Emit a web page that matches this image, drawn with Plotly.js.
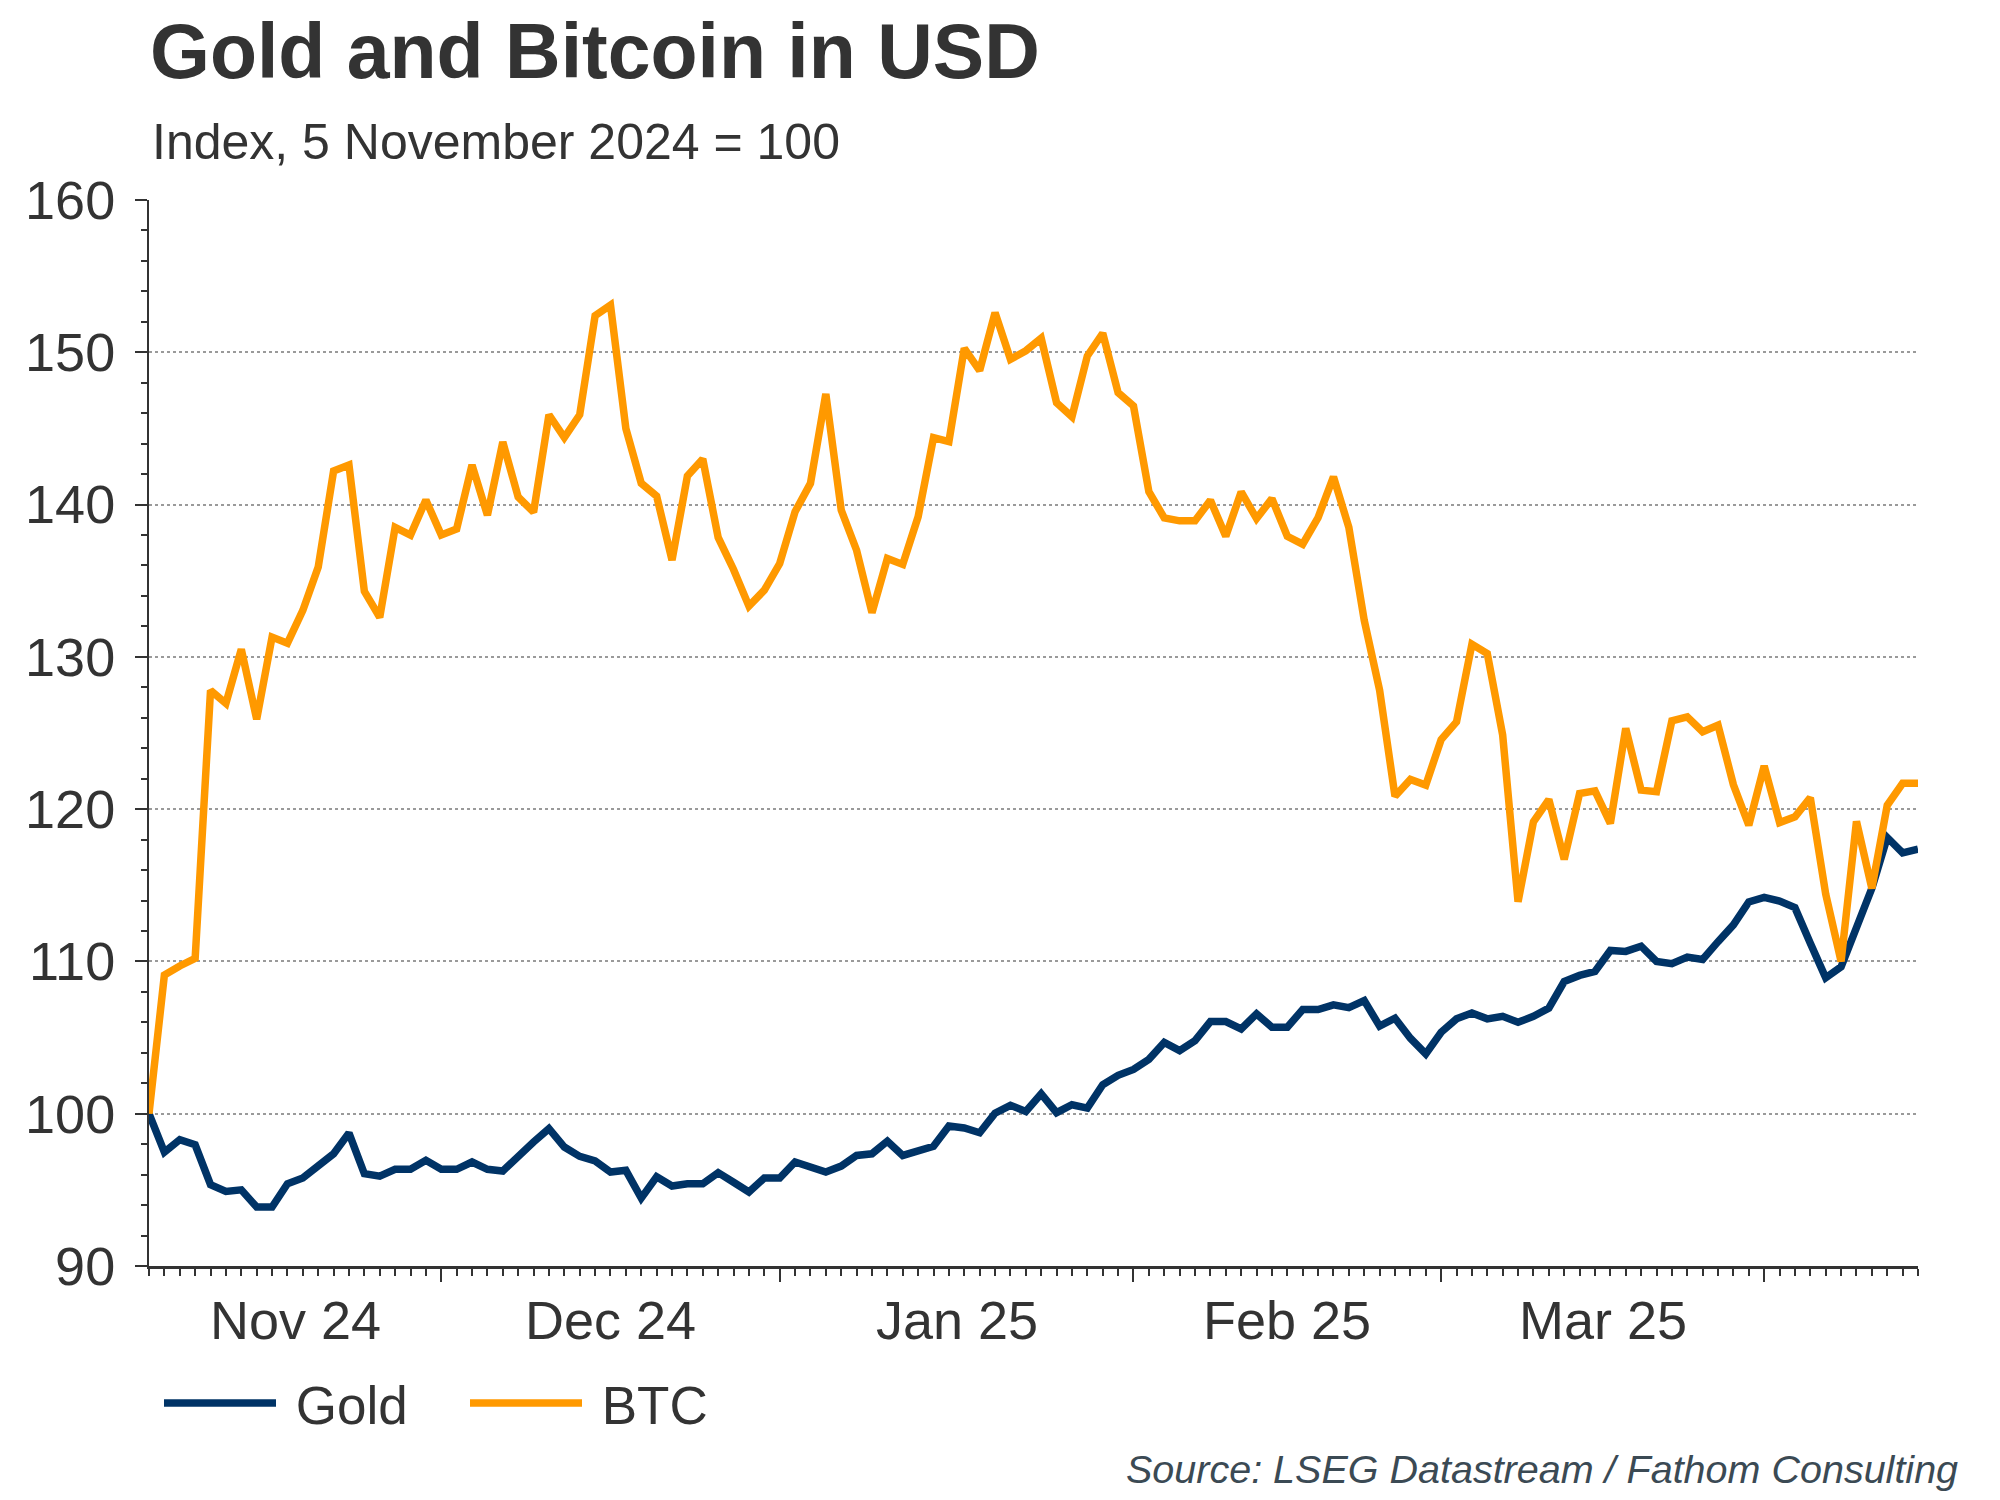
<!DOCTYPE html>
<html>
<head>
<meta charset="utf-8">
<script src="https://cdn.plot.ly/plotly-3.0.1.min.js"></script>
<style>
  html, body { margin: 0; padding: 0; background: #ffffff; }
  #chart { width: 2000px; height: 1500px; }
</style>
</head>
<body>
<div id="chart"></div>
<script>
// ---------- DATA ----------
const startDate = '2024-11-05';
const endDate = '2025-04-15';
const monthLabels = ['Nov 24', 'Dec 24', 'Jan 25', 'Feb 25', 'Mar 25'];
const seriesNames = ['Gold', 'BTC'];

const gold = [
  100, 97.48, 98.3, 97.96, 95.34, 94.9, 95.0, 93.87, 93.87, 95.4,
  95.78, 96.54, 97.37, 98.73, 96.06, 95.9, 96.35, 96.35, 96.94, 96.35,
  96.35, 96.83, 96.35, 96.24, 97.26, 98.14, 99.02, 97.81, 97.2, 96.9,
  96.17, 96.28, 94.46, 95.86, 95.25, 95.4, 95.4, 96.13, 95.5, 94.86,
  95.78, 95.78, 96.83, 96.5, 96.17, 96.56, 97.26, 97.37, 98.2, 97.26,
  97.59, 97.86, 99.19, 99.06, 98.75, 100.04, 100.55, 100.15, 101.31, 100.07,
  100.59, 100.37, 101.9, 102.52, 102.91, 103.57, 104.68, 104.14, 104.8, 106.05,
  106.05, 105.57, 106.56, 105.68, 105.68, 106.84, 106.84, 107.15, 106.97, 107.43,
  105.75, 106.27, 104.96, 103.93, 105.35, 106.23, 106.62, 106.23, 106.4, 106.0,
  106.4, 106.93, 108.68, 109.08, 109.34, 110.72, 110.66, 111.0, 110.0, 109.85,
  110.29, 110.13, 111.3, 112.4, 113.91, 114.21, 113.96, 113.53, 111.2, 108.93,
  109.64, 112.15, 114.8, 118.14, 117.13, 117.38
];

const btc = [
  100, 109.1, 109.7, 110.2, 127.8, 126.95, 130.5, 125.9, 131.3, 130.9,
  133.05, 135.9, 142.2, 142.6, 134.3, 132.6, 138.5, 138.0, 140.3, 138.0,
  138.4, 142.6, 139.3, 144.1, 140.5, 139.5, 145.9, 144.4, 145.9, 152.4,
  153.1, 145.0, 141.4, 140.56, 136.35, 141.87, 142.99, 137.84, 135.74, 133.33,
  134.38, 136.13, 139.53, 141.39, 147.26, 139.64, 137.0, 132.9, 136.46, 136.07,
  139.2, 144.39, 144.13, 150.26, 148.8, 152.6, 149.54, 150.1, 150.92, 146.69,
  145.77, 149.76, 151.25, 147.35, 146.47, 140.84, 139.13, 138.93, 138.93, 140.28,
  137.92, 140.83, 139.08, 140.39, 137.92, 137.4, 139.15, 141.82, 138.5, 132.4,
  127.81, 120.85, 121.95, 121.58, 124.57, 125.73, 130.83, 130.22, 124.86, 113.92,
  119.17, 120.63, 116.7, 121.03, 121.2, 119.06, 125.3, 121.25, 121.14, 125.8,
  126.06, 125.08, 125.51, 121.6, 118.94, 122.84, 119.12, 119.5, 120.75, 114.42,
  110.0, 119.2, 114.8, 120.25, 121.7, 121.7
];

const yTickVals = [90, 100, 110, 120, 130, 140, 150, 160];

// ---------- CATEGORIES (weekday trading dates) ----------
function weekdays(a, b) {
  const out = [];
  const d = new Date(a + 'T00:00:00Z');
  const e = new Date(b + 'T00:00:00Z');
  while (d <= e) {
    const wd = d.getUTCDay();
    if (wd !== 0 && wd !== 6) out.push(d.toISOString().slice(0, 10));
    d.setUTCDate(d.getUTCDate() + 1);
  }
  return out;
}
const dates = weekdays(startDate, endDate);
const xIdx = dates.map((_, i) => i);

// first trading day of each new month -> month boundaries
const boundaries = [];
for (let i = 1; i < dates.length; i++) {
  if (dates[i].slice(0, 7) !== dates[i - 1].slice(0, 7)) boundaries.push(i);
}
const starts = [0].concat(boundaries);
const labelPos = monthLabels.map((_, k) => (starts[k] + starts[k + 1]) / 2);

const FONT = 'Liberation Sans, Arial, Helvetica, sans-serif';
const TXT = '#333333';
const NB = '\u00a0';

// plot area in px: left 149, right 1918, top 200, bottom 1266
const PT = 200, PH = 1066, PL = 149, PW = 1769;
const py = (px) => 1 - (px - PT) / PH;
const pxX = (px) => (px - PL) / PW;

const traces = [
  {
    x: xIdx, y: gold, customdata: dates, name: NB + seriesNames[0],
    type: 'scatter', mode: 'lines',
    line: { color: '#003366', width: 7.5 },
    hovertemplate: '%{customdata}: %{y:.1f}<extra>Gold</extra>'
  },
  {
    x: xIdx, y: btc, customdata: dates, name: NB + seriesNames[1],
    type: 'scatter', mode: 'lines',
    line: { color: '#FF9900', width: 7.5 },
    hovertemplate: '%{customdata}: %{y:.1f}<extra>BTC</extra>'
  }
];

const monthAnnotations = monthLabels.map((t, k) => ({
  text: t, xref: 'x', x: labelPos[k], xanchor: 'center',
  yref: 'paper', y: py(1288), yanchor: 'top',
  showarrow: false, font: { family: FONT, size: 54, color: TXT }
}));

const layout = {
  width: 2000, height: 1500,
  paper_bgcolor: '#ffffff', plot_bgcolor: '#ffffff',
  margin: { l: 149, r: 82, t: 200, b: 234, pad: 0 },
  font: { family: FONT, color: TXT },
  showlegend: true,
  title: {
    text: '<b>Gold and Bitcoin in USD</b>',
    font: { family: FONT, size: 77, color: TXT },
    xref: 'container', x: 150 / 2000, xanchor: 'left',
    yref: 'container', y: 1 - 24 / 1500, yanchor: 'top'
  },
  xaxis: {
    range: [0, dates.length - 1],
    showline: true, linecolor: TXT, linewidth: 2.5,
    showgrid: false, zeroline: false,
    tickmode: 'array', tickvals: boundaries,
    ticks: 'outside', ticklen: 13, tickwidth: 2, tickcolor: TXT,
    showticklabels: false,
    minor: { dtick: 1, tick0: 0, ticks: 'outside', ticklen: 7, tickwidth: 1.5, tickcolor: TXT, showgrid: false },
    fixedrange: true
  },
  yaxis: {
    range: [90, 160],
    tickmode: 'array', tickvals: yTickVals,
    showline: true, linecolor: TXT, linewidth: 2,
    showgrid: true, gridcolor: '#9a9a9a', gridwidth: 1.5, griddash: 'dot',
    zeroline: false,
    ticks: 'outside', ticklen: 12, tickwidth: 2, tickcolor: TXT,
    ticklabelstandoff: 9,
    tickfont: { family: FONT, size: 54, color: TXT },
    minor: { dtick: 2, tick0: 90, ticks: 'outside', ticklen: 6, tickwidth: 1.5, tickcolor: TXT, showgrid: false },
    fixedrange: true
  },
  legend: {
    orientation: 'h',
    xref: 'paper', x: pxX(159), xanchor: 'left',
    yref: 'paper', y: py(1362), yanchor: 'top',
    font: { family: FONT, size: 53, color: TXT },
    itemwidth: 112,
    entrywidth: 179,
    bgcolor: 'rgba(0,0,0,0)', borderwidth: 0,
    itemclick: false, itemdoubleclick: false
  },
  annotations: monthAnnotations.concat([
    {
      text: 'Index, 5 November 2024 = 100',
      xref: 'paper', x: pxX(150), xanchor: 'left',
      yref: 'paper', y: py(112), yanchor: 'top',
      showarrow: false, align: 'left',
      font: { family: FONT, size: 50, color: TXT }
    },
    {
      text: '<i>Source: LSEG Datastream / Fathom Consulting</i>',
      xref: 'paper', x: pxX(1960), xanchor: 'right',
      yref: 'paper', y: py(1493), yanchor: 'bottom',
      showarrow: false, align: 'right',
      font: { family: FONT, size: 39.5, color: '#3b4a54' }
    }
  ])
};

Plotly.newPlot('chart', traces, layout, { displayModeBar: false, responsive: false });
</script>
</body>
</html>
